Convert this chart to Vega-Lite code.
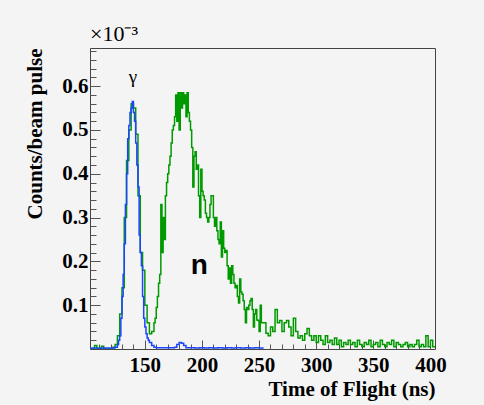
{
  "$schema": "https://vega.github.io/schema/vega-lite/v6.json",
  "autosize": {"type": "none"},
  "width": 345,
  "height": 301,
  "padding": {"left": 90, "top": 48, "right": 49, "bottom": 56},
  "background": "#f4f4f4",
  "config": {
    "view": {"stroke": "#444444", "strokeWidth": 1, "fill": "#f4f4f4"},
    "axis": {"grid": false, "domain": false, "tickColor": "#555555", "labelColor": "black", "titleColor": "black", "labelFont": "Liberation Serif", "titleFont": "Liberation Serif", "labelFontWeight": "bold", "titleFontWeight": "bold", "labelFontSize": 21, "titleFontSize": 21},
    "title": {"font": "Liberation Serif", "fontSize": 22, "fontWeight": "normal", "color": "black", "anchor": "start", "frame": "group", "offset": 2}
  },
  "title": "×10⁻³",
  "datasets": {
    "green": [
      {"t":102,"v":0},{"t":104,"v":0},{"t":106,"v":0.008},{"t":108,"v":0},{"t":110,"v":0},{"t":112,"v":0.006},{"t":114,"v":0},{"t":116,"v":0},{"t":118,"v":0},{"t":120,"v":0},{"t":122,"v":0.004},{"t":124,"v":0.01},{"t":126,"v":0.03},{"t":128,"v":0.08},{"t":130,"v":0.14},{"t":132,"v":0.3},{"t":134,"v":0.43},{"t":136,"v":0.5},{"t":138,"v":0.56},{"t":140,"v":0.55},{"t":142,"v":0.49},{"t":144,"v":0.35},{"t":146,"v":0.22},{"t":148,"v":0.18},{"t":150,"v":0.1},{"t":152,"v":0.06},{"t":154,"v":0.035},{"t":156,"v":0.04},{"t":158,"v":0.06},
      {"t":159,"v":0.07},{"t":160,"v":0.095},{"t":161,"v":0.12},{"t":162,"v":0.15},{"t":163,"v":0.17},{"t":164,"v":0.33},{"t":165,"v":0.22},{"t":166,"v":0.3},{"t":167,"v":0.25},{"t":168,"v":0.35},{"t":169,"v":0.38},{"t":170,"v":0.4},{"t":171,"v":0.42},{"t":172,"v":0.44},{"t":173,"v":0.47},{"t":174,"v":0.5},{"t":175,"v":0.51},{"t":176,"v":0.53},{"t":177,"v":0.58},{"t":178,"v":0.52},{"t":179,"v":0.585},{"t":180,"v":0.5},{"t":181,"v":0.585},{"t":182,"v":0.55},{"t":183,"v":0.585},{"t":184,"v":0.56},{"t":185,"v":0.58},{"t":186,"v":0.53},{"t":187,"v":0.585},{"t":188,"v":0.54},{"t":189,"v":0.52},{"t":190,"v":0.5},{"t":191,"v":0.46},{"t":192,"v":0.37},{"t":193,"v":0.44},{"t":194,"v":0.45},{"t":195,"v":0.41},{"t":196,"v":0.42},{"t":197,"v":0.35},{"t":198,"v":0.3},{"t":199,"v":0.41},{"t":200,"v":0.36},{"t":201,"v":0.35},{"t":202,"v":0.34},{"t":203,"v":0.31},{"t":204,"v":0.3},{"t":205,"v":0.29},{"t":206,"v":0.3},{"t":207,"v":0.33},{"t":208,"v":0.35},{"t":209,"v":0.35},{"t":210,"v":0.3},{"t":211,"v":0.28},{"t":212,"v":0.3},{"t":213,"v":0.27},{"t":214,"v":0.25},{"t":215,"v":0.24},{"t":216,"v":0.29},{"t":217,"v":0.21},{"t":218,"v":0.27},{"t":219,"v":0.23},{"t":220,"v":0.22},{"t":221,"v":0.225},{"t":222,"v":0.19},{"t":223,"v":0.16},{"t":224,"v":0.185},{"t":225,"v":0.15},{"t":226,"v":0.19},{"t":227,"v":0.17},{"t":228,"v":0.15},{"t":229,"v":0.14},{"t":230,"v":0.145},{"t":231,"v":0.12},{"t":232,"v":0.105},{"t":233,"v":0.16},{"t":234,"v":0.13},{"t":235,"v":0.125},{"t":236,"v":0.11},{"t":237,"v":0.09},{"t":238,"v":0.06},{"t":239,"v":0.095},{"t":240,"v":0.09},{"t":241,"v":0.1},{"t":242,"v":0.11},{"t":243,"v":0.115},{"t":244,"v":0.09},{"t":245,"v":0.05},{"t":246,"v":0.08},{"t":247,"v":0.09},{"t":248,"v":0.066},{"t":249,"v":0.065},{"t":250,"v":0.04},{"t":251,"v":0.1},{"t":252,"v":0.06},
      {"t":254,"v":0.06},{"t":256,"v":0.036},{"t":258,"v":0.03},{"t":260,"v":0.05},{"t":262,"v":0.04},{"t":264,"v":0.09},{"t":266,"v":0.06},{"t":268,"v":0.065},{"t":270,"v":0.04},{"t":272,"v":0.06},{"t":274,"v":0.065},{"t":276,"v":0.05},{"t":278,"v":0.03},{"t":280,"v":0.07},{"t":282,"v":0.04},{"t":284,"v":0.025},{"t":286,"v":0.03},{"t":288,"v":0.02},{"t":290,"v":0.035},{"t":292,"v":0.047},{"t":294,"v":0.03},{"t":296,"v":0.02},{"t":298,"v":0.03},{"t":300,"v":0.015},{"t":302,"v":0.03},{"t":304,"v":0.02},{"t":306,"v":0.01},{"t":308,"v":0.03},{"t":310,"v":0.015},{"t":312,"v":0.02},{"t":314,"v":0.01},{"t":316,"v":0.025},{"t":318,"v":0.01},{"t":320,"v":0.02},{"t":322,"v":0.005},{"t":324,"v":0.015},{"t":326,"v":0.01},{"t":328,"v":0.02},{"t":330,"v":0.01},{"t":332,"v":0.015},{"t":334,"v":0.005},{"t":336,"v":0.02},{"t":338,"v":0.01},{"t":340,"v":0.005},{"t":342,"v":0.015},{"t":344,"v":0.01},{"t":346,"v":0.02},{"t":348,"v":0.005},{"t":350,"v":0.01},{"t":352,"v":0.015},{"t":354,"v":0.005},{"t":356,"v":0.02},{"t":358,"v":0.01},{"t":360,"v":0.005},{"t":362,"v":0.015},{"t":364,"v":0.01},{"t":366,"v":0.02},{"t":368,"v":0.005},{"t":370,"v":0.015},{"t":372,"v":0.01},{"t":374,"v":0.005},{"t":376,"v":0.01},{"t":378,"v":0.015},{"t":380,"v":0.005},{"t":382,"v":0.01},{"t":384,"v":0.005},{"t":386,"v":0.01},{"t":388,"v":0.02},{"t":390,"v":0.005},{"t":392,"v":0.01},{"t":394,"v":0.005},{"t":396,"v":0.03},{"t":398,"v":0.005},{"t":400,"v":0.02},{"t":402,"v":0.005},{"t":404,"v":0.005}
    ],
    "blue": [
      {"t":102,"v":0.002},{"t":106,"v":0.002},{"t":110,"v":0.002},{"t":114,"v":0.002},{"t":118,"v":0.002},{"t":122,"v":0.002},{"t":124,"v":0.004},{"t":126,"v":0.01},{"t":127,"v":0.02},{"t":128,"v":0.03},{"t":129,"v":0.07},{"t":130,"v":0.12},{"t":131,"v":0.17},{"t":132,"v":0.24},{"t":133,"v":0.33},{"t":134,"v":0.4},{"t":135,"v":0.48},{"t":136,"v":0.51},{"t":137,"v":0.54},{"t":138,"v":0.55},{"t":139,"v":0.565},{"t":140,"v":0.54},{"t":141,"v":0.52},{"t":142,"v":0.47},{"t":143,"v":0.42},{"t":144,"v":0.37},{"t":145,"v":0.26},{"t":146,"v":0.22},{"t":147,"v":0.19},{"t":148,"v":0.12},{"t":149,"v":0.07},{"t":150,"v":0.05},{"t":151,"v":0.035},{"t":152,"v":0.025},{"t":153,"v":0.02},{"t":154,"v":0.015},{"t":156,"v":0.008},{"t":158,"v":0.004},{"t":160,"v":0.003},{"t":164,"v":0.003},{"t":168,"v":0.003},{"t":172,"v":0.003},{"t":176,"v":0.004},{"t":178,"v":0.01},{"t":180,"v":0.015},{"t":182,"v":0.013},{"t":184,"v":0.008},{"t":186,"v":0.003},{"t":190,"v":0.003},{"t":194,"v":0.002},{"t":198,"v":0.003},{"t":202,"v":0.002},{"t":206,"v":0.003},{"t":210,"v":0.002},{"t":214,"v":0.003},{"t":218,"v":0.002},{"t":222,"v":0.003},{"t":226,"v":0.002},{"t":230,"v":0.003},{"t":234,"v":0.002},{"t":238,"v":0.003},{"t":242,"v":0.002},{"t":246,"v":0.003},{"t":250,"v":0.002},{"t":254,"v":0.002}
    ],
    "labels": [
      {"t":139.6,"v":0.62,"txt":"γ","kind":"g"},
      {"t":197.7,"v":0.19,"txt":"n","kind":"n"}
    ]
  },
  "resolve": {"axis": {"x": "independent", "y": "independent"}},
  "layer": [
    {
      "data": {"name": "green"},
      "mark": {"type": "line", "interpolate": "step-after", "color": "#009a00", "strokeWidth": 1.5, "clip": true},
      "encoding": {
        "x": {"field": "t", "type": "quantitative", "scale": {"domain": [102, 404], "nice": false, "zero": false},
          "axis": {"orient": "bottom", "values": [150, 200, 250, 300, 350, 400], "tickSize": -9, "labelPadding": 14, "title": "Time of Flight (ns)", "titleAnchor": "end", "titlePadding": 3, "labelFlush": false}},
        "y": {"field": "v", "type": "quantitative", "scale": {"domain": [0, 0.687], "nice": false, "zero": false},
          "axis": {"orient": "left", "values": [0.1, 0.2, 0.3, 0.4, 0.5, 0.6], "format": ".1f", "tickSize": -10, "labelPadding": 12, "title": "Counts/beam pulse", "titleAnchor": "end", "titlePadding": 16, "labelFlush": false}}
      }
    },
    {
      "data": {"name": "blue"},
      "mark": {"type": "line", "interpolate": "step-after", "color": "#1a45ff", "strokeWidth": 1.5, "clip": true},
      "encoding": {
        "x": {"field": "t", "type": "quantitative", "scale": {"domain": [102, 404], "nice": false, "zero": false},
          "axis": {"orient": "bottom", "values": [110,120,130,140,160,170,180,190,210,220,230,240,260,270,280,290,310,320,330,340,360,370,380,390], "tickSize": -5, "labels": false, "title": null}},
        "y": {"field": "v", "type": "quantitative", "scale": {"domain": [0, 0.687], "nice": false, "zero": false},
          "axis": {"orient": "left", "values": [0.02,0.04,0.06,0.08,0.12,0.14,0.16,0.18,0.22,0.24,0.26,0.28,0.32,0.34,0.36,0.38,0.42,0.44,0.46,0.48,0.52,0.54,0.56,0.58,0.62,0.64,0.66,0.68], "tickSize": -6, "labels": false, "title": null}}
      }
    },
    {
      "data": {"name": "labels"},
      "transform": [{"filter": "datum.kind == 'g'"}],
      "mark": {"type": "text", "font": "Liberation Serif", "fontSize": 19, "color": "black"},
      "encoding": {
        "x": {"field": "t", "type": "quantitative", "axis": null},
        "y": {"field": "v", "type": "quantitative", "axis": null},
        "text": {"field": "txt"}
      }
    },
    {
      "data": {"name": "labels"},
      "transform": [{"filter": "datum.kind == 'n'"}],
      "mark": {"type": "text", "font": "Liberation Sans", "fontWeight": "bold", "fontSize": 28, "color": "black"},
      "encoding": {
        "x": {"field": "t", "type": "quantitative", "axis": null},
        "y": {"field": "v", "type": "quantitative", "axis": null},
        "text": {"field": "txt"}
      }
    }
  ]
}
